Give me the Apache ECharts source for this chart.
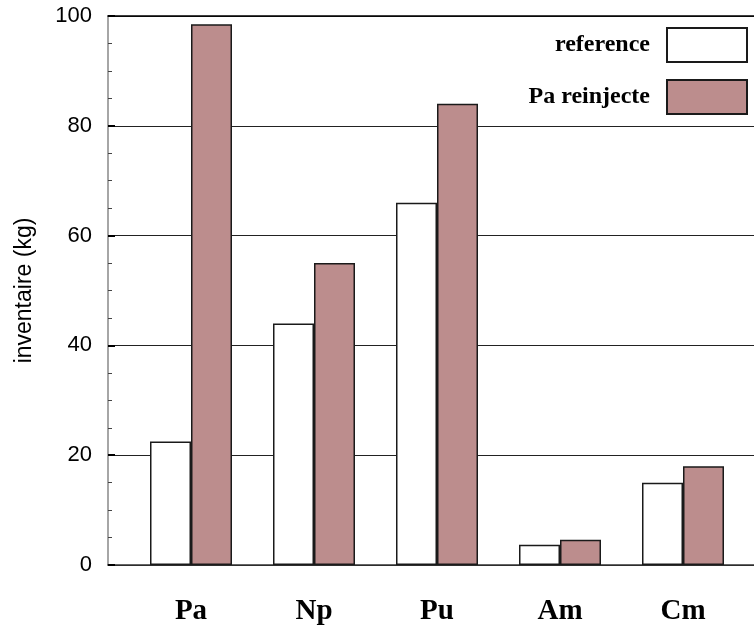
<!DOCTYPE html>
<html><head><meta charset="utf-8">
<script src="https://cdn.jsdelivr.net/npm/echarts@6/dist/echarts.min.js"></script>
<style>html,body{margin:0;padding:0;background:#fff}#c{width:754px;height:627px}</style>
</head><body><div id="c"></div>
<script>
const categories = ['Pa', 'Np', 'Pu', 'Am', 'Cm'];
const seriesNames = ['reference', 'Pa reinjecte'];
const referenceValues = [22.5, 44, 66, 3.7, 15];
const reinjecteValues = [98.5, 55, 84, 4.6, 18];

const chart = echarts.init(document.getElementById('c'), null, {renderer: 'canvas'});
chart.setOption({
  animation: false,
  backgroundColor: '#fff',
  grid: [
    {left: 108, top: 16, bottom: 62, width: 670},
    {left: 129.5, top: 16, bottom: 62, width: 615}
  ],
  legend: {
    orient: 'vertical', right: 1, top: 22, align: 'right',
    itemWidth: 80, itemHeight: 34, itemGap: 16, icon: 'rect',
    textStyle: {fontFamily: 'Liberation Serif', fontWeight: 'bold', fontSize: 24, color: '#000', padding: [0, 12, 0, 0]},
    data: seriesNames
  },
  xAxis: [{
    gridIndex: 0, type: 'value', min: 0, max: 1, position: 'bottom',
    axisLine: {show: true, onZero: false, lineStyle: {color: '#333', width: 1.5}},
    axisTick: {show: false}, axisLabel: {show: false}, splitLine: {show: false}
  }, {
    gridIndex: 0, type: 'value', min: 0, max: 1, position: 'top',
    axisLine: {show: true, onZero: false, lineStyle: {color: '#000', width: 1.5}},
    axisTick: {show: false}, axisLabel: {show: false}, splitLine: {show: false}
  }, {
    gridIndex: 1, type: 'category', data: categories, position: 'bottom',
    axisLine: {show: false}, axisTick: {show: false}, splitLine: {show: false},
    axisLabel: {margin: 32, fontFamily: 'Liberation Serif', fontWeight: 'bold', fontSize: 29, color: '#000'}
  }],
  yAxis: [{
    gridIndex: 0, type: 'value', min: 0, max: 100, interval: 20,
    name: 'inventaire (kg)', nameLocation: 'middle', nameGap: 72,
    nameTextStyle: {fontFamily: 'Liberation Sans', fontSize: 23, color: '#000'},
    axisLine: {show: true, lineStyle: {color: '#888', width: 1.5}},
    axisTick: {show: true, inside: true, length: 7, lineStyle: {color: '#000', width: 2}},
    minorTick: {show: true, splitNumber: 4, length: 4, lineStyle: {color: '#444', width: 1}},
    axisLabel: {margin: 16, fontFamily: 'Liberation Sans', fontSize: 22, color: '#000'},
    splitLine: {show: true, lineStyle: {color: '#222', width: 1}}
  }, {
    gridIndex: 1, type: 'value', min: 0, max: 100, show: false,
    splitLine: {show: false}
  }],
  series: [{
    name: seriesNames[0], type: 'bar', xAxisIndex: 2, yAxisIndex: 1, data: referenceValues,
    barWidth: 41, barGap: '0%',
    itemStyle: {color: '#ffffff', borderColor: '#1a1a1a', borderWidth: 1.5}
  }, {
    name: seriesNames[1], type: 'bar', xAxisIndex: 2, yAxisIndex: 1, data: reinjecteValues,
    barWidth: 41, barGap: '0%',
    itemStyle: {color: '#bc8d8d', borderColor: '#1a1a1a', borderWidth: 1.5}
  }]
});
</script></body></html>
